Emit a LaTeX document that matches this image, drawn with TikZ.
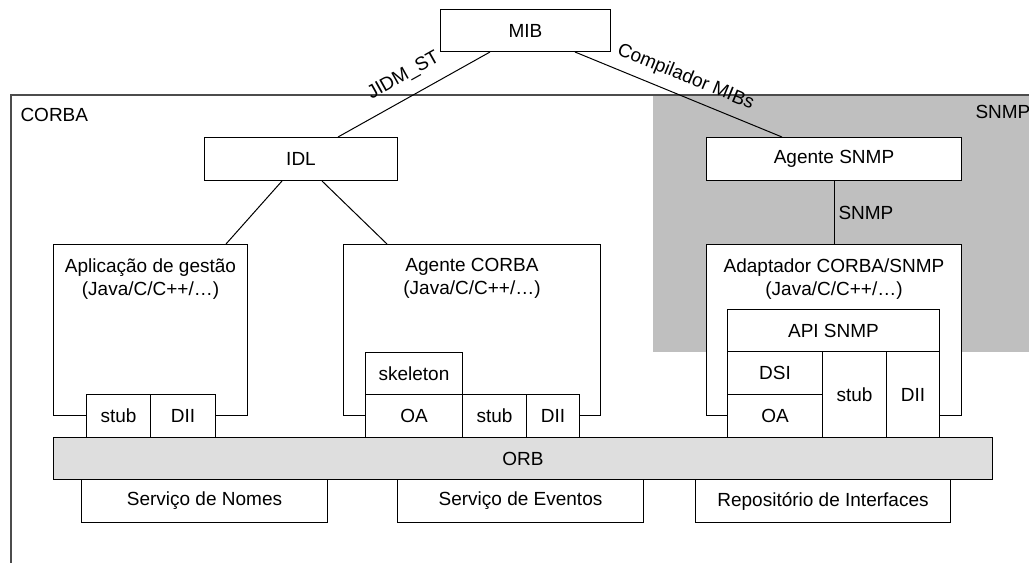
\documentclass[tikz,border=0pt]{standalone}
\usepackage{fontspec}
\setmainfont{Liberation Sans}
\usetikzlibrary{calc}

\tikzset{
  box/.style 2 args={draw, fill=white, anchor=north west, inner sep=0pt,
    minimum width=#1*0.75pt, minimum height=#2*0.75pt},
  toplbl/.style={anchor=north, align=center, inner sep=0pt, yshift=-10.5pt},
  lnlbl/.style={midway, sloped, inner sep=0pt},
}

\begin{document}
\begin{tikzpicture}[x=0.75pt, y=-0.75pt, line width=0.75pt,
    font=\fontsize{14.25pt}{17.25pt}\selectfont]
  \useasboundingbox (0,0) rectangle (1029,562);

  % SNMP area and CORBA frame
  \fill[black!25] (653,95) rectangle (1029,352);
  \draw[black!70, line width=1pt] (1030,95) -- (11,95) -- (11,563);
  \node[anchor=west, inner sep=0pt] (corba-lbl) at (20,115) {CORBA};
  \node[anchor=west, inner sep=0pt] (snmp-lbl) at (975,112) {SNMP};

  % top level
  \node[box={170}{42}] (mib) at (440,9) {MIB};
  \node[box={193}{43}] (idl) at (204,137) {IDL};
  \node[box={255}{43}] (agsnmp) at (706,137) {Agente SNMP};

  % application
  \node[box={194}{171}, label={[toplbl]north:Aplicação de gestão\\(Java/C/C++/…)}] (aplic) at (53,244) {};
  \node[box={64}{43}] (aplic-stub) at (86,394) {stub};
  \node[box={65}{43}] (aplic-dii) at (150,394) {DII};

  % CORBA agent
  \node[box={257}{171}, label={[toplbl]north:Agente CORBA\\(Java/C/C++/…)}] (agcorba) at (343,244) {};
  \node[box={97}{42}] (agcorba-skel) at (365,352) {skeleton};
  \node[box={97}{43}] (agcorba-oa) at (365,394) {OA};
  \node[box={64}{43}] (agcorba-stub) at (462,394) {stub};
  \node[box={53}{43}] (agcorba-dii) at (526,394) {DII};

  % adapter
  \node[box={255}{171}, label={[toplbl]north:Adaptador CORBA/SNMP\\(Java/C/C++/…)}] (adapt) at (706,244) {};
  \node[box={212}{42}] (adapt-api) at (727,309) {API SNMP};
  \node[box={95}{43}] (adapt-dsi) at (727,351) {DSI};
  \node[box={95}{43}] (adapt-oa) at (727,394) {OA};
  \node[box={64}{86}] (adapt-stub) at (822,351) {stub};
  \node[box={53}{86}] (adapt-dii) at (886,351) {DII};

  % ORB and services
  \node[box={939}{42}, fill=black!13] (orb) at (53,437) {ORB};
  \node[box={246}{43}] (nomes) at (81,479) {Serviço de Nomes};
  \node[box={246}{43}] (eventos) at (397,479) {Serviço de Eventos};
  \node[box={255}{43}] (repos) at (695,479) {Repositório de Interfaces};

  % connectors
  \draw ($(idl.north west)+(134,0)$) -- node[lnlbl, above=9pt] {JIDM\_ST} ($(mib.south west)+(50,0)$);
  \draw ($(mib.south west)+(135,0)$) -- node[lnlbl, above=7pt] {Compilador MIBs} ($(agsnmp.north west)+(76,0)$);
  \draw (agsnmp) -- node[right, inner sep=3pt] {SNMP} (adapt);
  \draw ($(idl.south west)+(78,0)$) -- ($(aplic.north west)+(173,0)$);
  \draw ($(idl.south west)+(118,0)$) -- ($(agcorba.north west)+(44,0)$);

\end{tikzpicture}
\end{document}
